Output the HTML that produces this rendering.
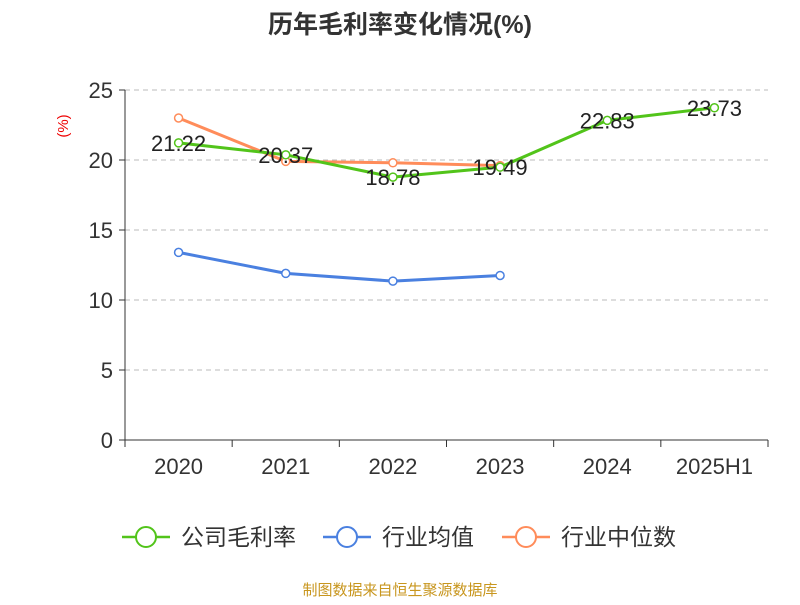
<!DOCTYPE html>
<html><head><meta charset="utf-8"><style>
body{margin:0;background:#fff;font-family:"Liberation Sans","Noto Sans CJK SC",sans-serif;}
svg text{font-family:"Liberation Sans","Noto Sans CJK SC",sans-serif;}
</style></head><body>
<svg id="c" width="800" height="600" xmlns="http://www.w3.org/2000/svg">
<text x="400" y="33" text-anchor="middle" font-size="25" font-weight="bold" fill="#333">历年毛利率变化情况(%)</text>
<text x="68" y="126" text-anchor="middle" font-size="15" fill="#e00" transform="rotate(-90 68 126)">(%)</text>
<g id="grid"></g><g id="axes"></g><g id="series"></g>
<g>
<g><line x1="122" y1="537" x2="170" y2="537" stroke="#52c41a" stroke-width="2.5"/><circle cx="146" cy="537" r="10" fill="#fff" stroke="#52c41a" stroke-width="2"/><text x="181" y="545" font-size="23" fill="#333">公司毛利率</text></g>
<g><line x1="323" y1="537" x2="371" y2="537" stroke="#4a80e0" stroke-width="2.5"/><circle cx="347" cy="537" r="10" fill="#fff" stroke="#4a80e0" stroke-width="2"/><text x="382" y="545" font-size="23" fill="#333">行业均值</text></g>
<g><line x1="502" y1="537" x2="550" y2="537" stroke="#ff8c5a" stroke-width="2.5"/><circle cx="526" cy="537" r="10" fill="#fff" stroke="#ff8c5a" stroke-width="2"/><text x="561" y="545" font-size="23" fill="#333">行业中位数</text></g>
</g>
<text x="400" y="595" text-anchor="middle" font-size="15" fill="#c8961e">制图数据来自恒生聚源数据库</text>
</svg>
<script>
const categories=["2020","2021","2022","2023","2024","2025H1"];
const companyValues=[21.22,20.37,18.78,19.49,22.83,23.73];
const industryAvg=[13.4,11.9,11.35,11.75,null,null];
const industryMedian=[23.0,19.9,19.8,19.6,null,null];
const yTicks=[0,5,10,15,20,25];
const NS="http://www.w3.org/2000/svg";
const x0=125,x1=768,y0=440,yTop=90;
const bw=(x1-x0)/categories.length;
const xs=i=>x0+bw*(i+0.5);
const ys=v=>y0-(v/25)*(y0-yTop);
function mk(t,a,p){const e=document.createElementNS(NS,t);for(const k in a)e.setAttribute(k,a[k]);p.appendChild(e);return e;}
const grid=document.getElementById('grid'),axes=document.getElementById('axes'),ser=document.getElementById('series');
yTicks.forEach(t=>{
 if(t>0){const g=mk('line',{x1:x0,x2:x1,y1:ys(t),y2:ys(t),stroke:'#bbb','stroke-dasharray':'5,4'},grid);
 
 }
 const tk=mk('line',{x1:x0-6,x2:x0,y1:ys(t),y2:ys(t),stroke:'#333'},axes);
 
 
 const l=mk('text',{x:x0-12,y:ys(t)+8,'text-anchor':'end','font-size':22,fill:'#333'},axes);l.textContent=t;
 
 
});
const ya=mk('line',{x1:x0,x2:x0,y1:yTop,y2:y0,stroke:'#333'},axes);


const xa=mk('line',{x1:x0,x2:x1,y1:y0,y2:y0,stroke:'#333'},axes);


for(let i=0;i<=categories.length;i++){const t=mk('line',{x1:x0+bw*i,x2:x0+bw*i,y1:y0,y2:y0+7,stroke:'#333'},axes);
 
 }
categories.forEach((c,i)=>{const l=mk('text',{x:xs(i),y:y0+34,'text-anchor':'middle','font-size':22,fill:'#333'},axes);l.textContent=c;
 
 });
function line(vals,color,name,labels){
 const pts=vals.map((v,i)=>v==null?null:[xs(i),ys(v)]).filter(p=>p);
 const p=mk('polyline',{points:pts.map(p=>p.join(',')).join(' '),fill:'none',stroke:color,'stroke-width':3},ser);
 
 
 vals.forEach((v,i)=>{if(v==null)return;
  const c=mk('circle',{cx:xs(i),cy:ys(v),r:4,fill:'#fff',stroke:color,'stroke-width':1.5},ser);
  
  
  if(labels){const t=mk('text',{x:xs(i),y:ys(v)+8,'text-anchor':'middle','font-size':22,fill:'#222'},ser);t.textContent=v.toFixed(2);
  
  }
 });
}
line(industryAvg,'#4a80e0','industry-avg',false);
line(industryMedian,'#ff8c5a','industry-median',false);
line(companyValues,'#52c41a','company',true);
</script>
</body></html>
